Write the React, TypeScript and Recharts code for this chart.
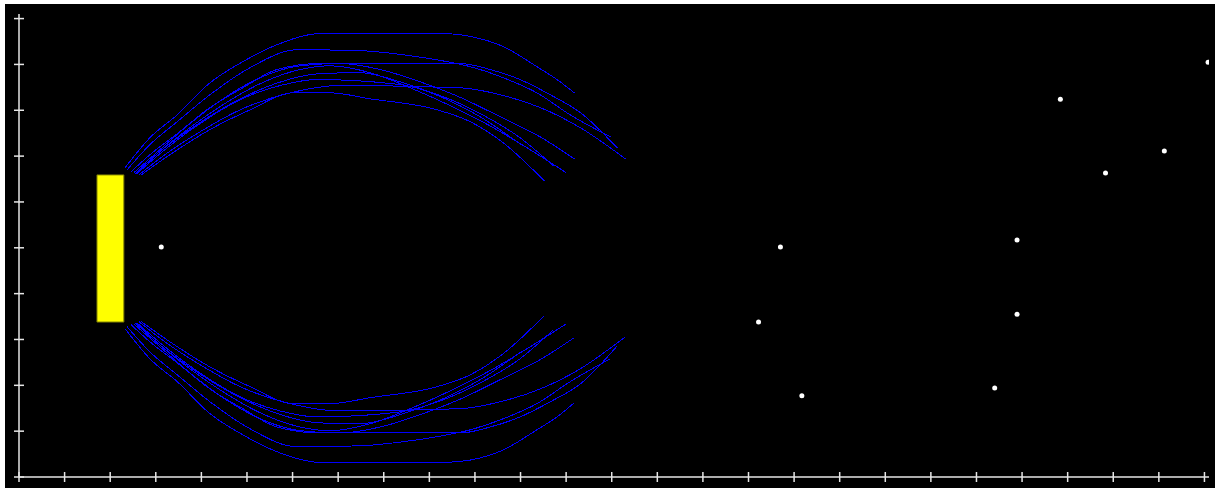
import { ComposedChart, Line, Scatter, XAxis, YAxis, ReferenceArea } from 'recharts'

const C = { bg: '#000000', axis: '#e6e6e6', field: '#0000ff', magnet: '#ffff00', magnetEdge: '#7a7a00', dot: '#ffffff' }

type Pt = [number, number]

const xTicks = [0, 1, 2, 3, 4, 5, 6, 7, 8, 9, 10, 11, 12, 13, 14, 15, 16, 17, 18, 19, 20, 21, 22, 23, 24, 25, 26]
const yTicks = [0, 1, 2, 3, 4, 5, 6, 7, 8, 9, 10]

// magnet block
const magnet = { x1: 1.71, x2: 2.3, y1: 3.38, y2: 6.59 }

// loose particles
const particles: Pt[] = [
  [3.12, 5.02], [16.7, 5.02], [16.22, 3.38], [17.17, 1.77], [21.89, 5.17], [21.89, 3.55],
  [21.4, 1.94], [22.84, 8.24], [23.83, 6.63], [25.12, 7.11], [26.08, 9.05],
]

// field lines above the magnet
const upperA: Pt[] = [[2.33, 6.75], [2.87, 7.4], [3.47, 7.9], [4.19, 8.6], [4.91, 9.06], [5.66, 9.43], [6.6, 9.67], [9.35, 9.67], [9.9, 9.61], [10.62, 9.39], [11.36, 8.95], [11.8, 8.67], [12.18, 8.38]]
const upperB: Pt[] = [[2.37, 6.7], [2.87, 7.25], [3.47, 7.75], [4.19, 8.34], [5.07, 8.93], [6.1, 9.32], [7.48, 9.3], [8.43, 9.21], [9.17, 9.1], [9.9, 8.95], [10.62, 8.71], [11.36, 8.38], [12.09, 7.9], [12.97, 7.42]]
const upperC1: Pt[] = [[2.46, 6.66], [2.87, 7.03], [3.47, 7.49], [4.19, 8.06], [4.91, 8.49], [5.66, 8.89], [6.6, 9.02], [9.68, 9.02], [10.33, 8.89], [10.99, 8.67], [11.65, 8.34], [12.31, 7.95], [13.12, 7.18]]
const upperC2: Pt[] = [[2.52, 6.64], [3.09, 7.14], [3.75, 7.71], [4.52, 8.28], [5.29, 8.71], [6.17, 8.97], [7.04, 9.02], [7.92, 8.89], [8.8, 8.62], [9.68, 8.28], [10.55, 7.86], [11.43, 7.42], [12.18, 6.94]]
const upperC3: Pt[] = [[2.57, 6.62], [3.09, 7.1], [3.75, 7.62], [4.52, 8.15], [5.29, 8.58], [6.17, 8.89], [6.82, 8.97], [7.7, 8.82], [8.58, 8.49], [9.46, 8.1], [10.33, 7.66], [11.21, 7.14], [12.0, 6.64]]
const upperD: Pt[] = [[2.59, 6.62], [3.2, 7.14], [3.97, 7.71], [4.85, 8.23], [5.73, 8.54], [6.54, 8.67], [8.36, 8.56], [9.24, 8.32], [10.11, 7.93], [10.99, 7.4], [11.72, 6.79]]
const upperE: Pt[] = [[2.63, 6.59], [3.2, 7.03], [3.97, 7.53], [4.85, 8.01], [5.95, 8.38], [7.04, 8.54], [9.68, 8.49], [10.55, 8.34], [11.43, 8.06], [12.31, 7.62], [13.3, 6.94]]
const upperF: Pt[] = [[2.68, 6.59], [3.31, 7.03], [4.19, 7.58], [5.07, 8.01], [6.01, 8.38], [6.82, 8.38], [7.7, 8.25], [9.17, 8.01], [9.9, 7.75], [10.62, 7.29], [11.52, 6.46]]
const upperG: Pt[] = [[2.55, 6.62], [3.09, 7.1], [3.86, 7.66], [4.74, 8.19], [5.62, 8.58], [6.6, 8.8], [7.48, 8.82], [8.36, 8.62], [9.24, 8.3], [10.11, 7.86], [11.01, 7.25]]

// field lines below the magnet
const lowerA: Pt[] = [[2.33, 3.23], [2.87, 2.58], [3.47, 2.08], [4.19, 1.38], [4.91, 0.92], [5.66, 0.55], [6.6, 0.32], [9.35, 0.32], [9.9, 0.37], [10.62, 0.59], [11.36, 1.03], [11.8, 1.31], [12.18, 1.62]]
const lowerB: Pt[] = [[2.37, 3.28], [2.87, 2.73], [3.47, 2.23], [4.19, 1.64], [5.07, 1.05], [6.1, 0.66], [7.48, 0.68], [8.43, 0.77], [9.17, 0.88], [9.9, 1.03], [10.62, 1.27], [11.36, 1.6], [12.09, 2.08], [12.97, 2.58]]
const lowerC1: Pt[] = [[2.46, 3.32], [2.87, 2.95], [3.47, 2.49], [4.19, 1.92], [4.91, 1.49], [5.66, 1.09], [6.6, 0.96], [9.68, 0.96], [10.33, 1.09], [10.99, 1.31], [11.65, 1.64], [12.31, 2.03], [13.12, 2.86]]
const lowerC2: Pt[] = [[2.52, 3.34], [3.09, 2.84], [3.75, 2.27], [4.52, 1.7], [5.29, 1.27], [6.17, 1.01], [7.04, 0.96], [7.92, 1.09], [8.8, 1.36], [9.68, 1.7], [10.55, 2.12], [11.43, 2.56], [12.18, 3.04]]
const lowerC3: Pt[] = [[2.57, 3.36], [3.09, 2.88], [3.75, 2.36], [4.52, 1.83], [5.29, 1.4], [6.17, 1.09], [6.82, 1.01], [7.7, 1.16], [8.58, 1.49], [9.46, 1.88], [10.33, 2.32], [11.21, 2.84], [12.0, 3.34]]
const lowerD: Pt[] = [[2.59, 3.36], [3.2, 2.84], [3.97, 2.27], [4.85, 1.75], [5.73, 1.44], [6.54, 1.31], [8.36, 1.42], [9.24, 1.66], [10.11, 2.05], [10.99, 2.58], [11.72, 3.21]]
const lowerE: Pt[] = [[2.63, 3.39], [3.2, 2.95], [3.97, 2.45], [4.85, 1.97], [5.95, 1.6], [7.04, 1.44], [9.68, 1.49], [10.55, 1.64], [11.43, 1.92], [12.31, 2.36], [13.3, 3.06]]
const lowerF: Pt[] = [[2.68, 3.39], [3.31, 2.95], [4.19, 2.4], [5.07, 1.97], [6.01, 1.6], [6.82, 1.6], [7.7, 1.73], [9.17, 1.97], [9.9, 2.23], [10.62, 2.69], [11.52, 3.52]]
const lowerG: Pt[] = [[2.55, 3.36], [3.09, 2.88], [3.86, 2.32], [4.74, 1.79], [5.62, 1.4], [6.6, 1.18], [7.48, 1.16], [8.36, 1.36], [9.24, 1.68], [10.11, 2.12], [11.01, 2.73]]

const fieldLines = [
  upperA, upperB, upperC1, upperC2, upperC3, upperD, upperE, upperF, upperG,
  lowerA, lowerB, lowerC1, lowerC2, lowerC3, lowerD, lowerE, lowerF, lowerG,
]

const toRows = (pts: Pt[]) => pts.map(([x, y]) => ({ x, y }))

// eslint-disable-next-line @typescript-eslint/no-explicit-any
const XTick = (p: any) => <line x1={p.x} x2={p.x} y1={p.y - 5} y2={p.y + 5} stroke={C.axis} strokeWidth={1.5} />
// eslint-disable-next-line @typescript-eslint/no-explicit-any
const YTick = (p: any) => <line x1={p.x - 5} x2={p.x + 5} y1={p.y} y2={p.y} stroke={C.axis} strokeWidth={1.5} />

export default function App() {
  return (
    <div style={{ position: 'absolute', left: 5, top: 4, width: 1210, height: 484, background: C.bg }}>
      <ComposedChart width={1210} height={484} margin={{ top: 10, right: 6, bottom: 0, left: 0 }}>
        <XAxis type="number" dataKey="x" domain={[0, 26.1]} ticks={xTicks} allowDataOverflow
          height={11} tickSize={0} tickMargin={0} tickLine={false} tick={XTick}
          axisLine={{ stroke: C.axis, strokeWidth: 1.5 }} />
        <YAxis type="number" dataKey="y" domain={[0, 10.1]} ticks={yTicks} allowDataOverflow
          width={14} tickSize={0} tickMargin={0} tickLine={false} tick={YTick}
          axisLine={{ stroke: C.axis, strokeWidth: 1.5 }} />
        <ReferenceArea x1={magnet.x1} x2={magnet.x2} y1={magnet.y1} y2={magnet.y2}
          fill={C.magnet} fillOpacity={1} stroke={C.magnetEdge} strokeWidth={1} />
        {fieldLines.map((pts, i) => (
          <Line key={i} data={toRows(pts)} dataKey="y" type="monotone" stroke={C.field}
            strokeWidth={1} shapeRendering="crispEdges" dot={false} activeDot={false} isAnimationActive={false} />
        ))}
        <Scatter data={toRows(particles)} dataKey="y" isAnimationActive={false}
          // eslint-disable-next-line @typescript-eslint/no-explicit-any
          shape={(p: any) => <circle cx={p.cx} cy={p.cy} r={2.5} fill={C.dot} />} />
      </ComposedChart>
    </div>
  )
}
